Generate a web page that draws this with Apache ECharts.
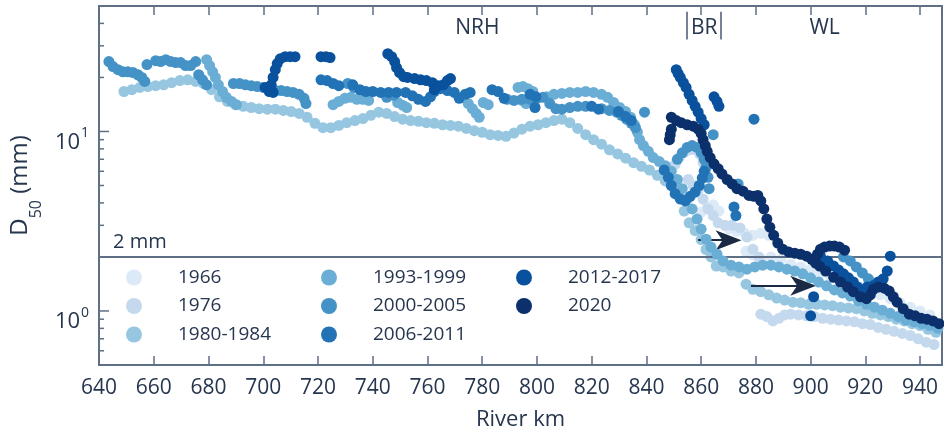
<!DOCTYPE html>
<html>
<head>
<meta charset="utf-8">
<script src="https://cdn.jsdelivr.net/npm/echarts@6/dist/echarts.min.js"></script>
<style>
  html, body { margin: 0; padding: 0; background: #ffffff; }
  #chart { width: 944px; height: 436px; }
</style>
</head>
<body>
<div id="chart"></div>
<script>
// Median grain size (D50) along the river, by survey period.
const FONT = '"Open Sans", "Noto Sans", sans-serif';
const AXIS_COLOR = '#5f6f86';
const TEXT_COLOR = '#26364f';

const periods = ['1966', '1976', '1980-1984', '1993-1999', '2000-2005', '2006-2011', '2012-2017', '2020'];
const periodColors = ['#dce9f6', '#c4d9ee', '#96c6e0', '#6aaed6', '#4492c6', '#2272b6', '#0a519d', '#0b306b'];

// [river km, D50 in mm]
const d1966 = [[860.0,3.55],[862.2,3.8],[864.4,3.9],[866.5,3.6],[870.2,2.86],[873.1,2.78],[876.0,2.71],[878.9,2.64],[881.8,2.71],[884.7,2.64],[876.4,2.15],[878.9,2.05],[881.8,1.94],[885.5,2.0],[889.1,1.94],[892.7,1.82],[896.4,1.76],[900.0,1.71],[903.6,1.63],[907.3,1.54],[910.9,1.49],[914.5,1.41],[918.2,1.36],[921.8,1.29],[925.5,1.23],[929.1,1.17],[932.7,1.11],[936.4,1.05],[940.0,1.0],[943.6,0.95]];

const d1976 = [[850.5,6.55],[852.0,7.15],[853.8,7.65],[855.6,7.9],[857.8,7.9],[859.6,7.45],[860.7,6.7],[861.5,6.0],[855.3,5.4],[857.1,5.0],[858.9,4.7],[860.7,4.2],[862.5,3.7],[864.4,3.4],[866.2,3.1],[868.7,3.0],[871.3,3.0],[874.2,2.9],[876.7,2.58],[878.9,2.21],[881.1,2.0],[881.8,0.96],[884.0,0.93],[886.2,0.88],[888.4,0.91],[890.5,0.95],[892.7,0.96],[895.6,0.95],[898.5,0.94],[901.5,0.93],[904.4,0.91],[907.3,0.90],[910.2,0.89],[913.1,0.88],[916.0,0.87],[918.9,0.85],[921.8,0.84],[924.7,0.81],[927.6,0.79],[930.5,0.77],[933.5,0.75],[936.4,0.73],[939.3,0.70],[942.2,0.67],[945.1,0.65]];

const d1980 = [[649.1,16.7],[652.0,17.1],[654.9,17.6],[657.8,17.8],[660.7,18.0],[663.6,18.2],[666.5,18.7],[669.5,19.2],[672.4,19.4],[675.3,19.0],[678.2,18.5],[681.1,17.1],[684.0,15.6],[686.9,14.7],[689.8,14.1],[692.7,13.8],[695.6,13.6],[698.5,13.4],[701.5,13.3],[704.4,13.3],[707.3,13.1],[710.2,12.9],[713.1,12.6],[716.0,12.0],[718.9,11.1],[721.8,10.5],[724.7,10.5],[727.6,10.8],[730.5,11.2],[733.5,11.5],[736.4,11.8],[739.3,12.3],[742.2,12.8],[745.1,12.6],[748.0,12.1],[750.9,11.7],[753.8,11.5],[756.7,11.4],[759.6,11.2],[762.5,11.1],[765.5,10.9],[768.4,10.8],[771.3,10.7],[774.2,10.4],[777.1,10.1],[780.0,9.9],[782.9,9.6],[785.8,9.5],[788.7,9.4],[791.6,9.8],[794.5,10.3],[797.5,10.7],[800.4,10.9],[803.3,11.2],[806.2,11.5],[809.1,11.7],[812.0,11.2],[814.9,10.4],[817.8,9.6],[820.7,9.0],[823.6,8.5],[826.5,7.9],[829.5,7.5],[832.4,7.1],[835.3,6.7],[838.2,6.4],[841.1,6.1],[844.0,5.7],[846.9,5.3],[849.8,4.9],[852.0,4.3],[853.8,3.6],[855.6,3.1],[857.8,2.8],[860.0,2.5],[861.8,2.2],[863.6,2.0],[865.5,1.78],[868.0,1.76],[870.9,1.67],[873.8,1.63],[876.4,1.41],[878.9,1.32],[881.8,1.28],[884.7,1.23],[887.6,1.18],[890.5,1.15],[893.5,1.12],[896.4,1.11],[899.3,1.09],[902.2,1.09],[905.1,1.08],[908.0,1.07],[910.9,1.05],[913.8,1.04],[916.7,1.03],[919.6,1.00],[922.5,0.97],[925.5,0.95],[928.4,0.93],[931.3,0.90],[934.2,0.88],[937.1,0.85],[940.0,0.83],[942.9,0.79],[945.8,0.76]];

const d1993 = [[679.3,25.1],[680.4,23.3],[681.5,21.5],[682.5,20.0],[683.6,18.2],[685.1,16.7],[686.5,15.5],[688.4,14.7],[690.2,14.1],[725.5,14.1],[727.6,14.7],[729.8,15.3],[732.0,15.5],[734.2,15.1],[736.4,15.1],[738.5,14.9],[749.1,14.5],[750.9,14.0],[752.4,13.6],[774.9,14.3],[776.4,13.4],[777.8,12.6],[778.9,12.0],[780.4,14.5],[782.2,14.1],[793.1,17.6],[794.9,17.8],[796.7,17.3],[798.5,16.7],[794.5,14.9],[796.0,14.3],[803.6,15.6],[806.2,16.1],[809.1,16.3],[812.0,16.5],[814.9,16.5],[817.8,16.7],[820.7,16.5],[823.6,16.1],[825.8,15.5],[828.0,14.5],[830.2,13.6],[832.4,12.9],[834.2,12.0],[835.6,10.9],[836.7,9.9],[837.5,9.0],[838.9,8.35],[840.7,7.75],[842.5,7.15],[844.7,6.8],[846.9,6.45],[849.1,6.0],[851.3,5.4],[853.1,4.8],[854.9,4.2],[856.7,3.7],[858.5,3.25],[860.0,2.86],[861.8,2.51],[863.6,2.27],[865.8,2.07],[868.0,1.90],[870.9,1.80],[873.8,1.76],[876.7,1.71],[879.6,1.76],[882.5,1.80],[885.5,1.80],[888.4,1.76],[891.3,1.71],[894.2,1.67],[897.1,1.61],[900.0,1.53],[902.9,1.45],[905.8,1.38],[908.7,1.31],[911.6,1.26],[914.5,1.21],[917.5,1.14],[920.4,1.09],[923.3,1.05],[926.2,1.01],[929.1,0.97],[932.0,0.93],[934.9,0.89],[937.8,0.87],[940.7,0.85],[943.6,0.83],[946.5,0.80]];

const d2000 = [[643.6,24.5],[645.1,23.0],[646.9,22.1],[648.7,21.5],[650.5,21.5],[652.4,21.3],[654.2,20.7],[655.6,20.0],[656.7,19.0],[657.5,23.6],[660.7,24.8],[662.5,24.5],[664.4,25.1],[666.2,24.5],[668.0,24.2],[669.8,24.2],[671.6,23.3],[673.5,23.3],[675.3,24.5],[676.4,20.7],[677.8,19.4],[679.3,18.2],[689.1,18.5],[691.3,18.5],[693.5,18.2],[695.6,18.0],[697.8,17.8],[700.0,17.6],[702.2,17.1],[704.4,16.9],[706.5,16.9],[708.7,16.7],[710.9,16.5],[713.1,16.1],[714.9,15.3],[715.6,14.3],[730.9,18.5],[733.1,17.6],[745.1,15.5],[747.6,15.9],[789.1,15.1],[791.6,14.9],[794.5,15.1],[797.5,15.1],[800.0,15.3],[802.2,15.5],[804.7,14.3],[806.9,13.4],[809.1,13.3],[812.0,13.6],[814.9,13.8],[817.8,13.8],[823.6,13.4],[826.5,13.1],[829.1,12.8],[830.9,12.3],[832.7,11.7],[834.5,11.1],[836.0,10.5],[839.3,12.8],[851.3,7.0],[853.1,7.6],[854.9,8.15],[856.7,8.35],[858.5,8.15],[860.0,7.6],[861.1,7.0],[861.8,6.3],[862.5,5.55],[862.9,4.8],[864.4,9.6],[873.5,5.1],[912.0,2.0],[914.5,1.90],[916.7,1.76],[918.9,1.63],[921.1,1.51]];

const d2006 = [[721.1,19.4],[723.3,19.2],[725.5,18.5],[727.6,18.0],[732.7,18.2],[735.3,17.1],[737.5,16.7],[740.0,16.7],[742.9,16.5],[745.8,16.5],[748.7,16.5],[752.0,16.5],[754.5,15.8],[756.7,15.1],[759.3,14.7],[761.1,15.6],[762.5,16.7],[764.7,17.3],[767.3,16.9],[769.8,16.5],[771.6,15.3],[773.8,16.1],[775.6,16.5],[783.6,17.1],[785.8,16.7],[788.0,15.3],[797.5,16.1],[799.6,15.6],[799.3,13.6],[820.0,13.8],[822.5,13.3],[829.8,12.9],[832.4,12.1],[834.5,11.5],[846.5,6.1],[848.0,5.55],[849.1,5.0],[850.5,4.5],[852.4,4.2],[854.2,4.1],[856.0,4.35],[857.8,4.6],[859.3,5.0],[860.4,5.5],[861.1,6.0],[872.0,3.8],[872.7,3.4],[879.3,11.7]];

const d2012 = [[700.7,17.6],[702.2,16.7],[703.6,16.5],[702.9,18.2],[703.6,20.0],[704.4,22.1],[705.1,23.9],[706.2,25.4],[708.0,26.1],[709.8,26.1],[711.6,26.1],[721.1,26.1],[722.9,26.1],[724.4,25.8],[745.5,27.1],[746.9,26.1],[748.0,24.5],[748.7,22.7],[749.8,21.3],[751.3,20.2],[752.7,20.0],[755.3,19.7],[757.5,19.4],[759.6,19.2],[761.8,18.7],[764.0,18.0],[765.8,18.2],[767.3,19.2],[768.4,19.7],[762.5,17.1],[850.9,22.1],[851.6,21.0],[852.4,20.0],[853.5,18.7],[854.5,17.6],[855.6,16.1],[856.7,14.9],[857.8,13.8],[858.9,12.8],[860.0,11.8],[861.1,10.9],[864.7,15.6],[865.8,14.7],[866.5,13.8],[903.6,2.02],[906.2,1.90],[908.4,1.78],[910.2,1.69],[912.0,1.61],[913.8,1.53],[915.6,1.45],[917.1,1.36],[918.2,1.28],[920.7,1.36],[922.9,1.38],[924.7,1.45],[926.5,1.51],[928.0,1.67],[929.1,2.02],[901.1,1.20],[900.0,0.94]];

const d2020 = [[849.1,12.0],[850.9,11.5],[852.7,11.2],[854.9,10.9],[857.1,10.7],[858.9,10.3],[860.0,9.75],[860.7,9.0],[861.5,8.35],[862.2,7.75],[863.3,7.15],[864.7,6.6],[866.2,6.2],[867.6,5.8],[869.5,5.4],[871.3,5.1],[873.1,4.8],[875.3,4.65],[877.5,4.4],[879.3,4.35],[880.7,4.4],[881.8,4.1],[882.9,3.7],[884.0,3.25],[885.1,2.93],[886.5,2.64],[888.0,2.39],[889.8,2.21],[892.0,2.13],[894.2,2.10],[896.4,2.07],[898.5,2.02],[900.4,1.94],[901.8,1.85],[903.3,1.78],[902.5,2.07],[903.6,2.21],[905.1,2.27],[906.9,2.30],[908.7,2.30],[910.5,2.27],[912.4,2.18],[905.5,1.67],[908.4,1.54],[910.9,1.45],[913.5,1.36],[915.6,1.28],[918.2,1.20],[920.4,1.17],[921.8,1.23],[922.9,1.32],[924.7,1.36],[926.9,1.34],[928.7,1.29],[930.2,1.20],[931.6,1.12],[933.8,1.03],[936.0,0.96],[938.2,0.94],[940.4,0.91],[942.5,0.90],[944.7,0.88],[946.9,0.85],[849.1,10.3],[848.7,9.6],[848.4,9.0]];

const periodData = [d1966, d1976, d1980, d1993, d2000, d2006, d2012, d2020];

// Axes
const xMin = 640, xMax = 948, xStep = 20;
const yMin = 0.5, yMax = 50;
const yMajorTicks = [1, 10];
const yMinorTicks = [0.6, 0.7, 0.8, 0.9, 2, 3, 4, 5, 6, 7, 8, 9, 20, 30, 40];

// Reference line and annotations
const thresholdMm = 2;
const reachLabels = [
  { text: 'NRH', km: 778.2, mm: 37.8 },
  { text: 'BR', km: 861.1, mm: 37.8 },
  { text: 'WL', km: 905.1, mm: 37.8 }
];
const brBounds = [854.9, 867.3];     // km
const brBarRange = [32.5, 46.4];     // mm
const thresholdLabel = { text: '2 mm', km: 654.9, mm: 2.42 };
const arrows = [
  { from: [858.9, 2.48], to: [870.0, 2.48] },
  { from: [878.2, 1.38], to: [897.3, 1.38] }
];

// Filled stealth arrow head, tip pointing up (rotated along the line by ECharts)
const ARROW_HEAD = 'path://M10,0 L20,26 L10,19 L0,26 Z';

const chart = echarts.init(document.getElementById('chart'));

const scatterSeries = periods.map((name, i) => ({
  name,
  type: 'scatter',
  data: periodData[i],
  symbol: 'circle',
  symbolSize: 11,
  itemStyle: { color: periodColors[i], opacity: 1 },
  silent: true,
  z: 2 + i
}));

const tickSeries = {
  type: 'custom',
  silent: true,
  clip: false,
  z: 20,
  encode: { x: 0, y: 1 },
  data: yMajorTicks.concat(yMinorTicks).map(v => [xMin, v]),
  renderItem(params, api) {
    const v = api.value(1);
    const p = api.coord([api.value(0), v]);
    const len = yMajorTicks.indexOf(v) >= 0 ? 10 : 5;
    return {
      type: 'line',
      shape: { x1: p[0], y1: p[1], x2: p[0] + len, y2: p[1] },
      style: { stroke: AXIS_COLOR, lineWidth: 1.5 }
    };
  }
};

const textStyleBase = { color: TEXT_COLOR, fontFamily: FONT };

const annotationSeries = {
  type: 'scatter',
  data: [],
  silent: true,
  z: 30,
  markLine: {
    silent: true,
    animation: false,
    symbol: ['none', 'none'],
    label: { show: false },
    lineStyle: { color: '#5d6e86', width: 2, type: 'solid' },
    data: [
      { yAxis: thresholdMm },
      [{ coord: [brBounds[0], brBarRange[0]], lineStyle: { color: '#4a5a70', width: 1.5 } },
       { coord: [brBounds[0], brBarRange[1]] }],
      [{ coord: [brBounds[1], brBarRange[0]], lineStyle: { color: '#4a5a70', width: 1.5 } },
       { coord: [brBounds[1], brBarRange[1]] }]
    ]
  },
  markPoint: {
    silent: true,
    animation: false,
    symbol: 'circle',
    symbolSize: 0,
    data: reachLabels.map(r => ({
      coord: [r.km, r.mm],
      label: { show: true, formatter: r.text, fontSize: 21, position: 'inside', ...textStyleBase }
    })).concat([{
      coord: [thresholdLabel.km, thresholdLabel.mm],
      label: { show: true, formatter: thresholdLabel.text, fontSize: 20, position: 'inside', ...textStyleBase }
    }])
  }
};

const arrowSeries = {
  type: 'scatter',
  data: [],
  silent: true,
  z: 31,
  markLine: {
    silent: true,
    animation: false,
    symbol: ['none', ARROW_HEAD],
    symbolSize: [20, 26],
    label: { show: false },
    itemStyle: { color: '#1b2a44' },
    lineStyle: { color: '#1b2a44', width: 2, type: 'solid' },
    data: arrows.map(a => [{ coord: a.from }, { coord: a.to }])
  }
};

const legendBase = {
  orient: 'vertical',
  icon: 'circle',
  itemWidth: 78,
  itemHeight: 16,
  itemGap: 9.5,
  padding: 0,
  top: 268,
  selectedMode: false,
  textStyle: { fontSize: 19, lineHeight: 18, ...textStyleBase }
};

const option = {
  animation: false,
  backgroundColor: '#ffffff',
  grid: { left: 95, right: 2, top: 6, bottom: 71 },
  legend: [
    { ...legendBase, left: 126, data: periods.slice(0, 3) },
    { ...legendBase, left: 321, data: periods.slice(3, 6) },
    { ...legendBase, left: 516, data: periods.slice(6) }
  ],
  xAxis: [
    {
      type: 'value', min: xMin, max: xMax, interval: xStep, position: 'bottom',
      axisLine: { show: true, lineStyle: { color: AXIS_COLOR, width: 2 } },
      axisTick: { show: true, inside: true, length: 9, lineStyle: { color: AXIS_COLOR, width: 1.5 } },
      axisLabel: { fontSize: 21, margin: 13, showMaxLabel: false, ...textStyleBase },
      splitLine: { show: false },
      name: 'River km', nameLocation: 'middle', nameGap: 44,
      nameTextStyle: { fontSize: 22, ...textStyleBase }
    },
    {
      type: 'value', min: xMin, max: xMax, interval: xStep, position: 'top',
      axisLine: { show: true, lineStyle: { color: AXIS_COLOR, width: 2 } },
      axisTick: { show: true, inside: true, length: 9, lineStyle: { color: AXIS_COLOR, width: 1.5 } },
      axisLabel: { show: false },
      splitLine: { show: false }
    }
  ],
  yAxis: [
    {
      type: 'log', logBase: 10, min: yMin, max: yMax, position: 'left',
      axisLine: { show: true, lineStyle: { color: AXIS_COLOR, width: 2 } },
      axisTick: { show: false },
      splitLine: { show: false },
      axisLabel: {
        margin: 10,
        showMinLabel: false, showMaxLabel: false,
        formatter(v) {
          const e = Math.round(Math.log10(v));
          if (Math.abs(v - Math.pow(10, e)) > 1e-9) return '';
          return '{b|10}{s|' + e + '}';
        },
        rich: {
          b: { fontSize: 22, lineHeight: 22, verticalAlign: 'top', padding: [11, 0, 0, 0], ...textStyleBase },
          s: { fontSize: 14, lineHeight: 14, verticalAlign: 'top', padding: [6, 0, 0, 1], ...textStyleBase }
        }
      },
      name: '{d|D}{s|50}{d| (mm)}',
      nameLocation: 'middle',
      nameRotate: 90,
      nameGap: 53,
      nameTextStyle: {
        rich: {
          d: { fontSize: 24, lineHeight: 24, verticalAlign: 'top', ...textStyleBase },
          s: { fontSize: 16, lineHeight: 16, verticalAlign: 'top', padding: [20, 0, 0, 0], ...textStyleBase }
        }
      }
    },
    {
      type: 'log', logBase: 10, min: yMin, max: yMax, position: 'right',
      axisLine: { show: true, lineStyle: { color: AXIS_COLOR, width: 2 } },
      axisTick: { show: false },
      axisLabel: { show: false },
      splitLine: { show: false }
    }
  ],
  series: scatterSeries.concat([tickSeries, annotationSeries, arrowSeries])
};

chart.setOption(option);
</script>
</body>
</html>
